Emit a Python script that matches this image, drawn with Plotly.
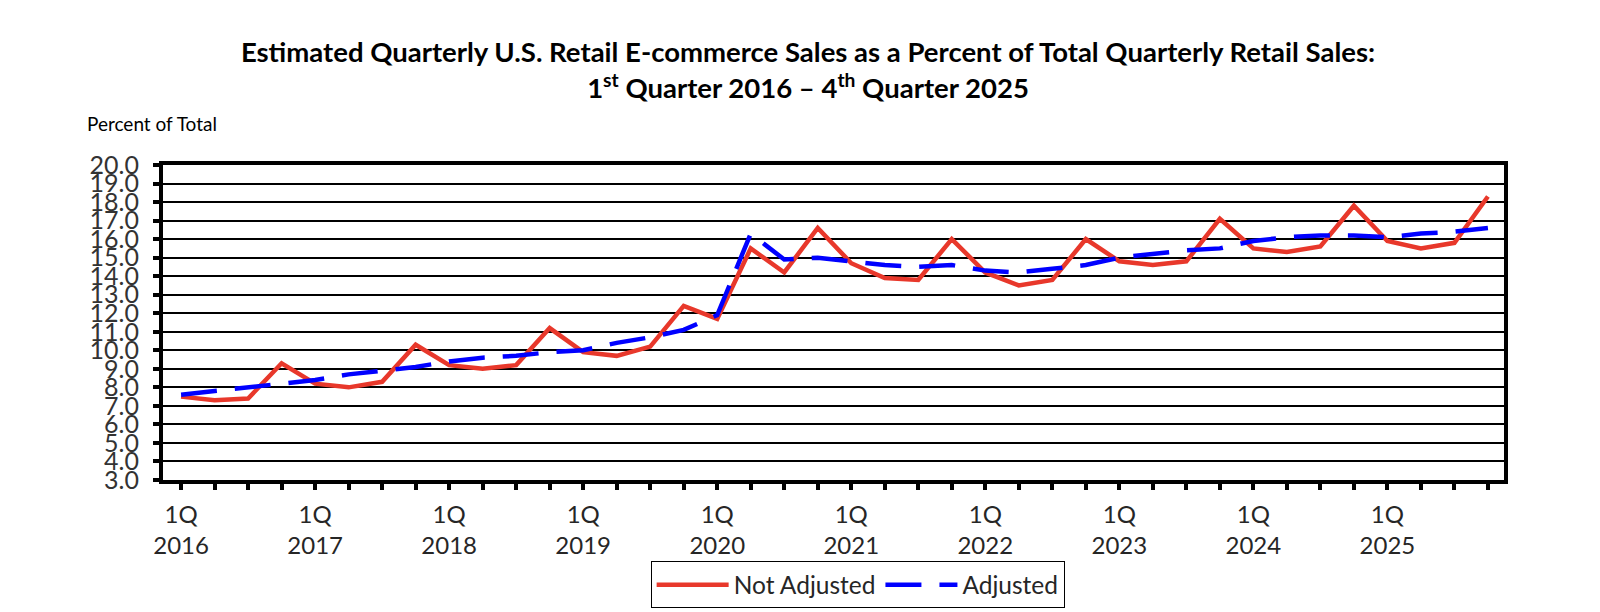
import plotly.graph_objects as go

years = [2016, 2017, 2018, 2019, 2020, 2021, 2022, 2023, 2024, 2025]
quarter_names = ["1Q", "2Q", "3Q", "4Q"]
quarters = [f"{q} {y}" for y in years for q in quarter_names]

not_adjusted = [
    7.5, 7.3, 7.4, 9.3,
    8.2, 8.0, 8.3, 10.3,
    9.2, 9.0, 9.2, 11.2,
    9.9, 9.7, 10.2, 12.4,
    11.7, 15.5, 14.2, 16.6,
    14.7, 13.9, 13.8, 16.0,
    14.2, 13.5, 13.8, 16.0,
    14.8, 14.6, 14.8, 17.1,
    15.5, 15.3, 15.6, 17.8,
    15.9, 15.5, 15.8, 18.3,
]
adjusted = [
    7.6, 7.8, 8.0, 8.2,
    8.4, 8.7, 8.9, 9.1,
    9.4, 9.6, 9.7, 9.9,
    10.0, 10.4, 10.7, 11.1,
    11.9, 16.3, 14.9, 15.0,
    14.8, 14.6, 14.5, 14.6,
    14.3, 14.2, 14.4, 14.6,
    15.0, 15.2, 15.4, 15.5,
    15.9, 16.1, 16.2, 16.2,
    16.1, 16.3, 16.4, 16.6,
]
y_ticks = [v / 1.0 for v in range(3, 21)]
x_ticktext = [f"1Q<br>{y}" if q == "1Q" else "" for y in years for q in quarter_names]

FONT = "Lato"

fig = go.Figure()
fig.add_trace(go.Scatter(
    x=quarters, y=not_adjusted, name="Not Adjusted", mode="lines",
    line=dict(color="#E8382B", width=4.5),
))
fig.add_trace(go.Scatter(
    x=quarters, y=adjusted, name="Adjusted", mode="lines",
    line=dict(color="#0000FF", width=4.5, dash="36px,18px"),
))

fig.update_layout(
    width=1600, height=612,
    margin=dict(l=155, r=104, t=157, b=134),
    paper_bgcolor="white", plot_bgcolor="white",
    font=dict(family=FONT, color="#262626"),
    title=dict(
        text="Estimated Quarterly U.S. Retail E-commerce Sales as a Percent of Total Quarterly Retail Sales:<br>"
             "1<sup>st</sup> Quarter 2016 – 4<sup>th</sup> Quarter 2025",
        x=0.5, xanchor="center", xref="container",
        y=0.911, yanchor="middle", yref="container",
        font=dict(family=FONT, size=27.5, color="black", weight="bold"),
    ),
    showlegend=True,
    legend=dict(
        orientation="h", x=0.518, xanchor="center", y=-0.258, yanchor="top",
        bordercolor="black", borderwidth=1, bgcolor="white",
        font=dict(family=FONT, size=24.5, color="#262626"),
        itemwidth=72, traceorder="normal",
    ),
    xaxis=dict(
        type="category", categoryorder="array", categoryarray=quarters,
        range=[-0.54, 39.48],
        tickmode="array", tickvals=quarters, ticktext=x_ticktext,
        ticks="outside", ticklen=6, tickwidth=4, tickcolor="black",
        showline=True, linecolor="black", linewidth=4, mirror=True,
        showgrid=False, zeroline=False,
        tickfont=dict(family=FONT, size=24, color="#262626"),
        ticklabelstandoff=4, tickangle=0,
    ),
    yaxis=dict(
        range=[3, 20], tickmode="array", tickvals=y_ticks,
        tickformat=".1f",
        ticks="outside", ticklen=6, tickwidth=4, tickcolor="black",
        showline=True, linecolor="black", linewidth=4, mirror=True,
        showgrid=True, gridcolor="black", gridwidth=2, zeroline=False,
        tickfont=dict(family=FONT, size=25, color="#333333"),
        ticklabelstandoff=9,
    ),
    annotations=[dict(
        text="Percent of Total", xref="paper", yref="paper",
        x=-0.058, y=1.133, xanchor="left", yanchor="middle",
        showarrow=False, font=dict(family=FONT, size=19, color="black"),
    )],
)

fig.write_html("out.html")
